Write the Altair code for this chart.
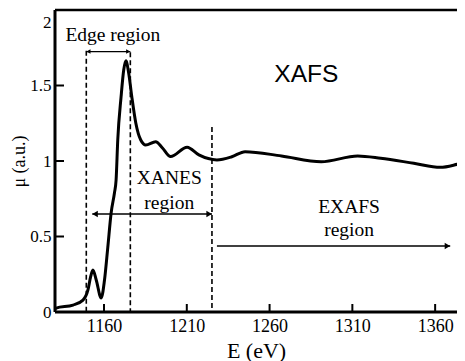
import altair as alt
import pandas as pd

# XAFS spectrum
energy = [1130.4, 1131.1, 1141.3, 1147.3, 1150.3, 1151.9, 1153.3, 1155.3, 1158.3, 1160.3,
          1162.3, 1164.3, 1166.3, 1167.3, 1168.3, 1170.3, 1171.9, 1173.2, 1174.9, 1176.8,
          1179.2, 1182.2, 1185.2, 1191.2, 1195.3, 1200.2, 1210.2, 1217.3, 1228.2, 1237.2,
          1245.2, 1267.2, 1291.2, 1313.2, 1327.1, 1347.1, 1363.1, 1373.3, 1376.0]
mu = [0.020, 0.026, 0.046, 0.079, 0.146, 0.232, 0.278, 0.212, 0.093, 0.212,
      0.430, 0.656, 0.788, 0.874, 1.139, 1.424, 1.603, 1.664, 1.583, 1.424,
      1.252, 1.139, 1.106, 1.128, 1.086, 1.029, 1.091, 1.040, 1.007, 1.028,
      1.062, 1.033, 0.995, 1.033, 1.018, 0.985, 0.958, 0.978, 0.985]

x_ticks = [1160, 1210, 1260, 1310, 1360]
y_ticks = [0, 0.5, 1, 1.5, 2]

# dashed region boundaries
bound_e = [1149.3, 1175.9, 1225.2]
bound_top = [1.73, 1.72, 1.225]

# region arrows
arrow_name = ["Edge", "XANES", "EXAFS"]
arrow_e1 = [1149.3, 1152.9, 1228.2]
arrow_e2 = [1175.9, 1225.2, 1369.1]
arrow_y = [1.725, 0.649, 0.437]
arrow_w = [1.2, 1.6, 1.6]

# arrow heads
head_e = [1150.6, 1174.6, 1154.6, 1223.5, 1367.4]
head_y = [1.725, 1.725, 0.649, 0.649, 0.437]
head_shape = ["triangle-left", "triangle-right", "triangle-left", "triangle-right", "triangle-right"]
head_size = [22, 22, 40, 40, 40]

# annotations
label_text = ["Edge region", "XANES", "region", "EXAFS", "region"]
label_e = [1165.3, 1199.4, 1199.4, 1308.0, 1308.0]
label_y = [1.834, 0.887, 0.722, 0.695, 0.543]

xafs_text = ["XAFS"]
xafs_e = [1282.2]
xafs_y = [1.57]

X_DOMAIN = [1130.4, 1373.2]
Y_DOMAIN = [0, 2]
W, H = 402, 302
SERIF = "Liberation Serif"

xs = alt.Scale(domain=X_DOMAIN, nice=False, zero=False)
ys = alt.Scale(domain=Y_DOMAIN, nice=False, zero=False)

AX = alt.Axis(
    values=x_ticks, format="d", title="E (eV)", tickSize=0, grid=False, domain=False,
    labelFont=SERIF, labelFontSize=18, labelColor="black",
    labelPadding=5, titleFont=SERIF, titleFontSize=22, titleFontWeight="normal",
    titleColor="black", titlePadding=5)
AY = alt.Axis(
    values=y_ticks, format=".1~f", title="μ (a.u.)", tickSize=0, grid=False, domain=False,
    labelFont=SERIF, labelFontSize=17, labelColor="black", labelPadding=4,
    labelOffset={"condition": {"test": "datum.value == 2", "value": 12}, "value": 0},
    titleFont=SERIF, titleFontSize=18,
    titleFontWeight="normal", titleColor="black", titlePadding=1)


def X(field):
    return alt.X(field, scale=xs, axis=AX)


def Y(field):
    return alt.Y(field, scale=ys, axis=AY)


spec_df = pd.DataFrame({"E": energy, "mu": mu})
line = alt.Chart(spec_df).mark_line(color="black", strokeWidth=3, interpolate="monotone", clip=True).encode(
    x=X("E:Q"), y=Y("mu:Q"))

xt_df = pd.DataFrame({"t": x_ticks})
xtick = alt.Chart(xt_df).mark_rule(color="black", strokeWidth=2).encode(
    x=X("t:Q"), y=alt.value(H), y2=alt.value(H - 8))

yt_df = pd.DataFrame({"t": y_ticks})
ytick = alt.Chart(yt_df).mark_rule(color="black", strokeWidth=2).encode(
    y=Y("t:Q"), x=alt.value(0), x2=alt.value(9))

frame = pd.DataFrame({"a": [0]})
top_border = alt.Chart(frame).mark_rule(color="black", strokeWidth=2.5).encode(
    y=alt.value(0), x=alt.value(0), x2=alt.value(W))
bottom_border = alt.Chart(frame).mark_rule(color="black", strokeWidth=3).encode(
    y=alt.value(H), x=alt.value(0), x2=alt.value(W))
left_border = alt.Chart(frame).mark_rule(color="black", strokeWidth=3).encode(
    x=alt.value(0), y=alt.value(0), y2=alt.value(H))

b_df = pd.DataFrame({"E": bound_e, "top": bound_top, "bottom": [0, 0, 0]})
bounds = alt.Chart(b_df).mark_rule(color="black", strokeWidth=1.6, strokeDash=[5, 3]).encode(
    x=X("E:Q"), y=Y("top:Q"), y2="bottom:Q")

a_df = pd.DataFrame({"name": arrow_name, "e1": arrow_e1, "e2": arrow_e2, "y": arrow_y, "w": arrow_w})
arrows = alt.Chart(a_df).mark_rule(color="black").encode(
    x=X("e1:Q"), x2="e2:Q", y=Y("y:Q"),
    strokeWidth=alt.StrokeWidth("w:Q", scale=None, legend=None))

h_df = pd.DataFrame({"E": head_e, "y": head_y, "shape": head_shape, "size": head_size})
heads = alt.Chart(h_df).mark_point(filled=True, color="black", opacity=1).encode(
    x=X("E:Q"), y=Y("y:Q"),
    shape=alt.Shape("shape:N", scale=None, legend=None),
    size=alt.Size("size:Q", scale=None, legend=None))

l_df = pd.DataFrame({"text": label_text, "E": label_e, "y": label_y})
labels = alt.Chart(l_df).mark_text(font=SERIF, fontSize=19.5, color="black", align="center", baseline="middle").encode(
    x=X("E:Q"), y=Y("y:Q"), text="text:N")

x_df = pd.DataFrame({"text": xafs_text, "E": xafs_e, "y": xafs_y})
xafs = alt.Chart(x_df).mark_text(font="Liberation Sans", fontSize=24.5, color="black", align="center", baseline="middle").encode(
    x=X("E:Q"), y=Y("y:Q"), text="text:N")

chart = alt.layer(line, bounds, arrows, heads, labels, xafs, xtick, ytick,
                  top_border, bottom_border, left_border).properties(
    width=W, height=H,
    autosize=alt.AutoSizeParams(type="none"),
    padding={"left": 47, "top": 2, "right": 0, "bottom": 52},
    background="white",
).configure_view(stroke=None)

chart.save("out.html", embed_options={"renderer": "svg", "actions": False})
